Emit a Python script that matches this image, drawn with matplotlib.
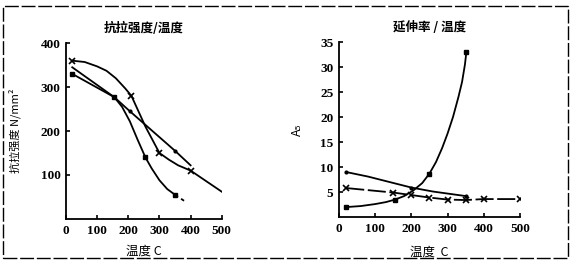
import matplotlib
matplotlib.use("Agg")
import matplotlib.pyplot as plt
from matplotlib.patches import Rectangle

CJK = ['Noto Sans CJK SC', 'DejaVu Sans']
SERIF = ['Liberation Serif', 'DejaVu Serif']

# ---------------- left chart: tensile strength vs temperature ----------------
left_title = "抗拉强度/温度"
left_ylabel = "抗拉强度 N/mm²"
left_xlabel = "温度 C"
left_xticks = [0, 100, 200, 300, 400, 500]
left_yticks = [100, 200, 300, 400]

# series with x markers (curve points; marked indices)
tx_x = [20, 60, 100, 130, 160, 190, 210, 255, 300, 330, 360, 400, 500]
tx_y = [360, 357, 347, 337, 320, 297, 280, 210, 150, 135, 122, 110, 62]
tx_mark = [0, 6, 8, 11]

# series with small dots
td_x = [20, 155, 205, 350, 400]
td_y = [345, 277, 245, 155, 122]
td_mark = [2, 3]

# series with filled squares
ts_x = [20, 155, 180, 205, 230, 255, 275, 300, 325, 350]
ts_y = [330, 277, 255, 222, 180, 140, 115, 88, 68, 55]
ts_mark = [0, 1, 5, 9]
ts_tail_x = [350, 382]
ts_tail_y = [55, 40]

# ---------------- right chart: elongation vs temperature ----------------
right_title = "延伸率 / 温度"
right_ylabel = "A₅"
right_xlabel = "温度  C"
right_xticks = [0, 100, 200, 300, 400, 500]
right_yticks = [5, 10, 15, 20, 25, 30, 35]

ex_x = [20, 150, 200, 250, 300, 350, 400, 500]
ex_y = [5.8, 4.9, 4.4, 3.9, 3.5, 3.4, 3.6, 3.6]

ed_x = [20, 80, 140, 200, 260, 310, 350]
ed_y = [9.0, 8.1, 7.0, 5.9, 5.1, 4.6, 4.2]
ed_mark = [0, 3, 6]

es_x = [20, 60, 100, 130, 155, 180, 205, 230, 250, 268, 285, 300, 315, 330, 340, 348, 352]
es_y = [2.0, 2.2, 2.6, 3.0, 3.5, 4.2, 5.3, 6.8, 8.7, 11.0, 13.8, 16.7, 20.0, 24.0, 27.0, 30.5, 33.0]
es_mark = [0, 4, 8, 16]

fig = plt.figure(figsize=(5.79, 2.71), dpi=100)

def style_axes(ax, xticks, yticks, xlim, ylim):
    ax.set_xlim(*xlim)
    ax.set_ylim(*ylim)
    for s in ['top', 'right']:
        ax.spines[s].set_visible(False)
    for s in ['left', 'bottom']:
        ax.spines[s].set_linewidth(1.3)
    ax.set_xticks(xticks)
    ax.set_yticks(yticks)
    ax.tick_params(direction='in', length=3, width=1.2, pad=4)
    for lab in ax.get_xticklabels() + ax.get_yticklabels():
        lab.set_fontfamily(SERIF)
        lab.set_fontsize(9.5)
        lab.set_fontweight('bold')

lw = 1.3
# left axes
ax1 = fig.add_axes([0.114, 0.192, 0.269, 0.649])
ax1.plot(tx_x, tx_y, color='black', lw=lw, marker='x', ms=4, mew=1.2, markevery=tx_mark)
ax1.plot(td_x, td_y, color='black', lw=lw, marker='o', ms=2, markevery=td_mark)
ax1.plot(ts_x, ts_y, color='black', lw=lw, marker='s', ms=3, markevery=ts_mark)
ax1.plot(ts_tail_x, ts_tail_y, color='black', lw=lw, ls=(0, (2, 2)))
style_axes(ax1, left_xticks, left_yticks, (0, 500), (0, 400))
ax1.set_title(left_title, family=CJK, fontsize=9, fontweight='bold', pad=8)
ax1.set_xlabel(left_xlabel, family=CJK, fontsize=9, labelpad=6)
ax1.set_ylabel(left_ylabel, family=CJK, fontsize=8, labelpad=14)

# right axes
ax2 = fig.add_axes([0.5855, 0.199, 0.3125, 0.646])
ax2.plot(ex_x, ex_y, color='black', lw=lw, ls=(0, (10, 2)), marker='x', ms=4, mew=1.2)
ax2.plot(ed_x, ed_y, color='black', lw=lw, marker='o', ms=2, markevery=ed_mark)
ax2.plot(es_x, es_y, color='black', lw=lw, marker='s', ms=3, markevery=es_mark)
style_axes(ax2, right_xticks, right_yticks, (0, 500), (0, 35))
ax2.set_title(right_title, family=CJK, fontsize=9, fontweight='bold', pad=8)
ax2.set_xlabel(right_xlabel, family=CJK, fontsize=9, labelpad=8)
ax2.set_ylabel(right_ylabel, family=CJK, fontsize=9, labelpad=12)

# outer frame
fig.patches.append(Rectangle((0.006, 0.048), 0.975, 0.93, transform=fig.transFigure,
                             fill=False, edgecolor='black', lw=1.0, ls=(0, (10, 2))))

fig.savefig('out.png', dpi=100)
